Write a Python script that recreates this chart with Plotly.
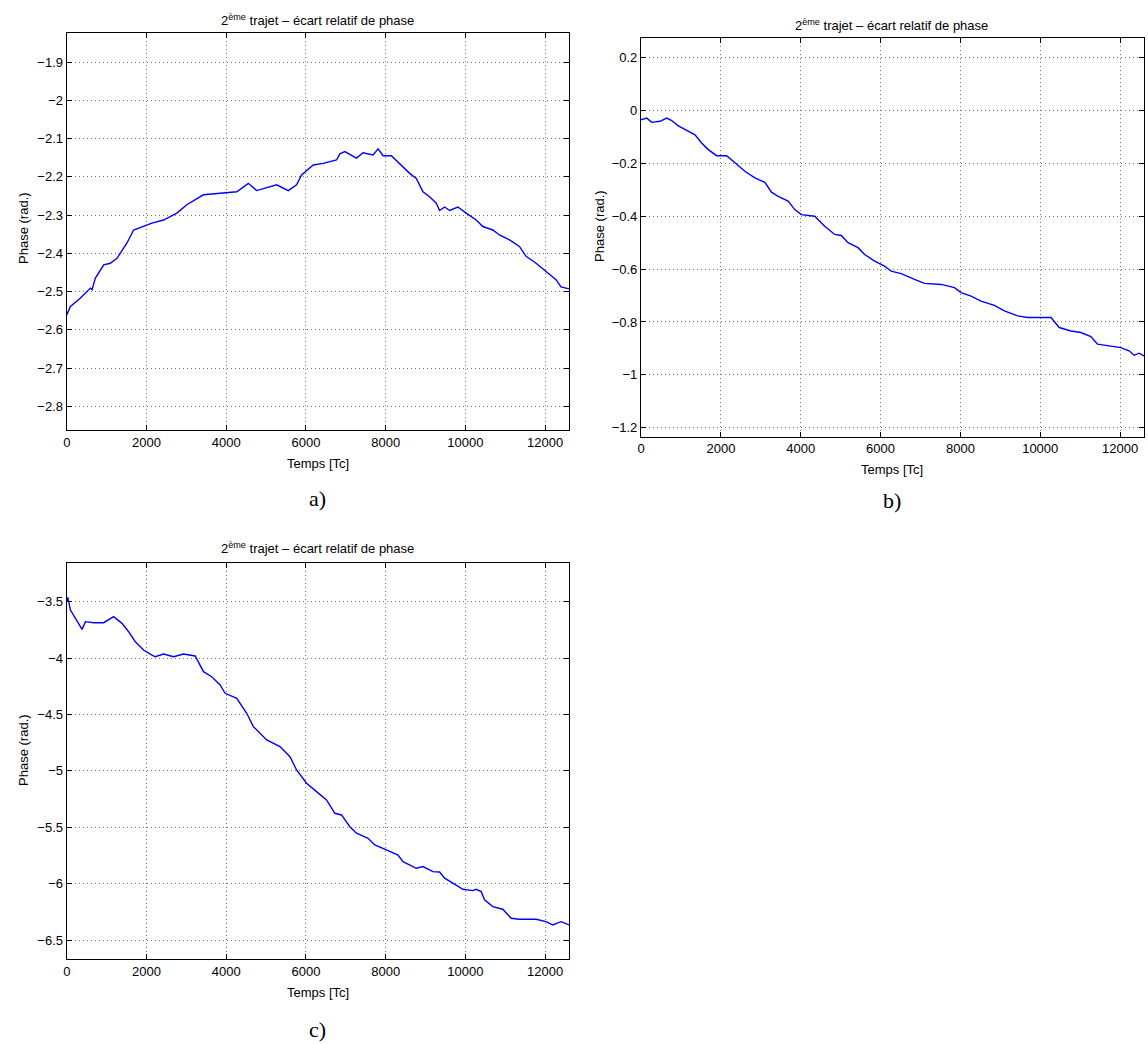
import plotly.graph_objects as go

# ---------------- data ----------------
a_x = [0, 92, 343, 593, 634, 718, 926, 1093, 1260, 1510, 1677, 1927, 2136, 2428, 2761, 3012,
       3429, 3847, 4264, 4556, 4764, 5265, 5557, 5765, 5890, 6183, 6433, 6767, 6851, 6976,
       7267, 7434, 7684, 7810, 7935, 8143, 8352, 8602, 8769, 8936, 9103, 9270, 9353, 9479,
       9604, 9812, 10021, 10271, 10438, 10688, 10855, 11106, 11356, 11523, 11773, 12024,
       12274, 12399, 12600]
a_y = [-2.561, -2.539, -2.517, -2.491, -2.495, -2.465, -2.430, -2.426, -2.413, -2.373, -2.339,
       -2.330, -2.321, -2.313, -2.295, -2.273, -2.247, -2.243, -2.239, -2.217, -2.236, -2.221,
       -2.236, -2.221, -2.195, -2.169, -2.165, -2.156, -2.140, -2.134, -2.151, -2.137, -2.143,
       -2.127, -2.145, -2.145, -2.165, -2.191, -2.204, -2.239, -2.252, -2.269, -2.288, -2.279,
       -2.288, -2.279, -2.295, -2.313, -2.330, -2.339, -2.352, -2.365, -2.382, -2.408, -2.426,
       -2.448, -2.469, -2.488, -2.493]

b_x = [0, 142, 267, 475, 642, 767, 934, 1184, 1351, 1517, 1684, 1892, 2142, 2310, 2601, 2851,
       3101, 3267, 3434, 3685, 3851, 4018, 4351, 4601, 4851, 5018, 5185, 5435, 5601, 5851,
       6101, 6267, 6517, 6851, 7101, 7518, 7851, 8018, 8268, 8518, 8851, 9101, 9435, 9685,
       9935, 10268, 10476, 10768, 11018, 11268, 11435, 11768, 12018, 12226, 12351, 12476, 12600]
b_y = [-0.035, -0.029, -0.045, -0.041, -0.029, -0.038, -0.058, -0.079, -0.092, -0.123, -0.148,
       -0.171, -0.171, -0.192, -0.230, -0.255, -0.272, -0.309, -0.325, -0.343, -0.375, -0.394,
       -0.400, -0.438, -0.469, -0.473, -0.500, -0.519, -0.545, -0.570, -0.589, -0.608, -0.617,
       -0.639, -0.654, -0.658, -0.670, -0.689, -0.702, -0.721, -0.737, -0.758, -0.777, -0.783,
       -0.783, -0.783, -0.821, -0.834, -0.840, -0.855, -0.884, -0.891, -0.897, -0.909, -0.926,
       -0.918, -0.928]

c_x = [0, 25, 92, 218, 383, 468, 676, 926, 1176, 1385, 1552, 1719, 1927, 2094, 2219, 2428,
       2678, 2929, 3222, 3429, 3637, 3847, 3972, 4264, 4514, 4681, 5015, 5349, 5599, 5765,
       6015, 6266, 6516, 6726, 6892, 7101, 7267, 7559, 7727, 8018, 8310, 8435, 8769, 8936,
       9186, 9353, 9479, 9687, 9937, 10188, 10271, 10396, 10480, 10688, 10938, 11147, 11356,
       11773, 12024, 12191, 12399, 12600]
c_y = [-3.50, -3.461, -3.574, -3.648, -3.745, -3.677, -3.686, -3.686, -3.633, -3.692, -3.766,
       -3.855, -3.928, -3.964, -3.988, -3.964, -3.988, -3.964, -3.981, -4.120, -4.165, -4.238,
       -4.312, -4.357, -4.489, -4.608, -4.726, -4.785, -4.874, -4.992, -5.110, -5.184, -5.258,
       -5.376, -5.391, -5.495, -5.553, -5.598, -5.657, -5.701, -5.746, -5.805, -5.864, -5.849,
       -5.894, -5.897, -5.952, -5.996, -6.050, -6.062, -6.050, -6.071, -6.144, -6.204, -6.227,
       -6.307, -6.316, -6.316, -6.337, -6.366, -6.337, -6.366]

x_ticks = [0, 2000, 4000, 6000, 8000, 10000, 12000]
a_yticks = [-1.9, -2.0, -2.1, -2.2, -2.3, -2.4, -2.5, -2.6, -2.7, -2.8]
a_ytext = ["\u22121.9", "\u22122", "\u22122.1", "\u22122.2", "\u22122.3", "\u22122.4",
           "\u22122.5", "\u22122.6", "\u22122.7", "\u22122.8"]
b_yticks = [0.2, 0, -0.2, -0.4, -0.6, -0.8, -1.0, -1.2]
b_ytext = ["0.2", "0", "\u22120.2", "\u22120.4", "\u22120.6", "\u22120.8", "\u22121", "\u22121.2"]
c_yticks = [-3.5, -4.0, -4.5, -5.0, -5.5, -6.0, -6.5]
c_ytext = ["\u22123.5", "\u22124", "\u22124.5", "\u22125", "\u22125.5", "\u22126", "\u22126.5"]

title_text = "2<sup>ème</sup> trajet \u2013 écart relatif de phase"
x_title = "Temps [Tc]"
y_title = "Phase (rad.)"
panel_labels = ["a)", "b)", "c)"]

# ---------------- figure ----------------
W, H = 1148, 1044
fig = go.Figure()

LINE = dict(color="#0000ff", width=1.4)
fig.add_trace(go.Scatter(x=a_x, y=a_y, mode="lines", line=LINE, xaxis="x", yaxis="y", showlegend=False))
fig.add_trace(go.Scatter(x=b_x, y=b_y, mode="lines", line=LINE, xaxis="x2", yaxis="y2", showlegend=False))
fig.add_trace(go.Scatter(x=c_x, y=c_y, mode="lines", line=LINE, xaxis="x3", yaxis="y3", showlegend=False))

def px(v):
    return v / W

def py(v):
    return 1 - v / H

TICKFONT = dict(family="Liberation Sans, Arial, sans-serif", size=13, color="black")
common = dict(showline=True, linecolor="black", linewidth=1.3, mirror="ticks",
              ticks="inside", ticklen=5, tickcolor="black", tickwidth=1,
              showgrid=True, gridcolor="rgba(0,0,0,0.55)", griddash="1px,3px", gridwidth=1,
              zeroline=False, tickfont=TICKFONT)

panels = [
    # (left, right, top, bottom, yrange, yticks, ytext)
    (63, 567, 33, 430, [-2.862, -1.824], a_yticks, a_ytext),
    (639.3, 1144, 38.3, 436.7, [-1.234, 0.273], b_yticks, b_ytext),
    (63, 567, 562.7, 959.3, [-6.671, -3.154], c_yticks, c_ytext),
]

for i, (l, r, t, b, yr, yt, ytx) in enumerate(panels):
    sfx = "" if i == 0 else str(i + 1)
    fig.layout["xaxis" + sfx] = dict(domain=[px(l), px(r)], range=[0, 12600],
                                     tickvals=x_ticks, ticktext=[str(v) for v in x_ticks],
                                     anchor="y" + sfx, **common)
    fig.layout["yaxis" + sfx] = dict(domain=[py(b), py(t)], range=yr,
                                     tickvals=yt, ticktext=ytx,
                                     anchor="x" + sfx, **common)

SANS = dict(family="Liberation Sans, Arial, sans-serif", size=13, color="black")
SERIF = dict(family="Liberation Serif, DejaVu Serif, serif", size=22, color="black")

ann_pos = [
    # title (x, y), xlabel y, ylabel x, ylabel y, panel label y
    (315, 20, 463, 19, 228, 499),
    (891, 25, 469, 597, 226, 501),
    (315, 548, 992, 19, 750, 1029),
]
anns = []
for i, (cx, ty, xly, ylx, yly, ply) in enumerate(ann_pos):
    anns.append(dict(x=px(cx), y=py(ty), xref="paper", yref="paper", text=title_text,
                     showarrow=False, font=SANS, xanchor="center", yanchor="middle"))
    anns.append(dict(x=px(cx), y=py(xly), xref="paper", yref="paper", text=x_title,
                     showarrow=False, font=SANS, xanchor="center", yanchor="middle"))
    anns.append(dict(x=px(ylx), y=py(yly), xref="paper", yref="paper", text=y_title,
                     showarrow=False, font=SANS, textangle=-90, xanchor="center", yanchor="middle"))
    anns.append(dict(x=px(cx), y=py(ply), xref="paper", yref="paper", text=panel_labels[i],
                     showarrow=False, font=SERIF, xanchor="center", yanchor="middle"))

fig.update_layout(width=W, height=H, autosize=False,
                  margin=dict(l=0, r=0, t=0, b=0),
                  paper_bgcolor="white", plot_bgcolor="white",
                  annotations=anns, showlegend=False)

fig.write_html("out.html", config={"displayModeBar": False},
               post_script="document.body.style.margin='0';document.body.style.overflow='hidden';")
